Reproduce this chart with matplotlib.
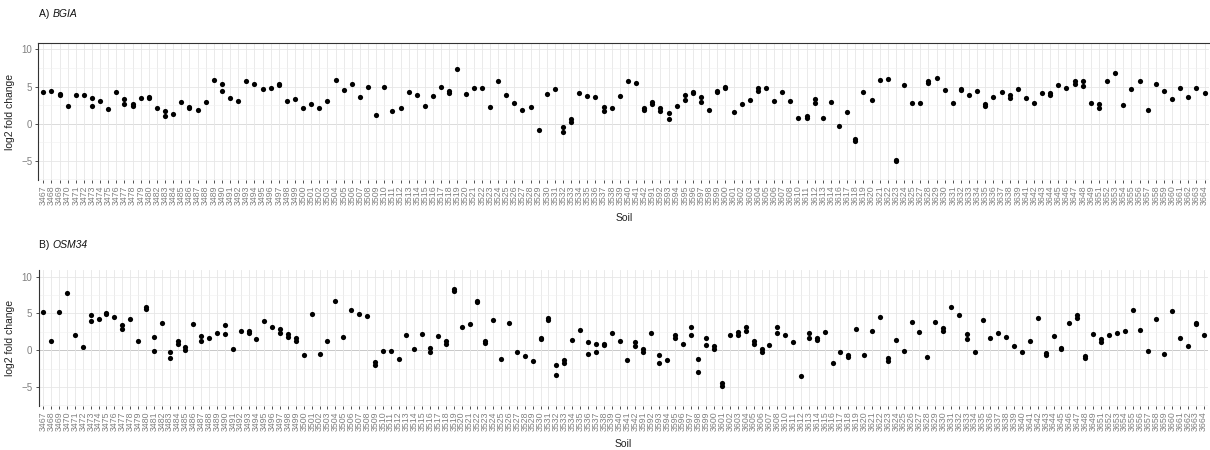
import matplotlib
matplotlib.use('Agg')
import matplotlib.pyplot as plt

plt.rcParams['font.family'] = ['Liberation Sans', 'DejaVu Sans']

# soil ids on the x axis of each panel
soils_bgia = """3467 3468 3469 3470 3471 3472 3473 3474 3475 3476 3477 3478 3479 3480
3482 3483 3484 3485 3486 3487 3488 3489 3490 3491 3492 3493 3494 3495 3496 3497 3498
3499 3500 3501 3502 3503 3504 3505 3506 3507 3508 3509 3510 3511 3512 3513 3514 3515
3516 3517 3518 3519 3520 3521 3522 3523 3524 3525 3526 3527 3528 3529 3530 3531 3532
3533 3534 3535 3536 3537 3538 3539 3540 3541 3542 3591 3592 3593 3594 3595 3596 3597
3598 3599 3600 3601 3602 3603 3604 3605 3606 3607 3608 3610 3611 3612 3613 3614 3616
3617 3618 3619 3620 3621 3622 3623 3624 3625 3627 3628 3629 3630 3631 3632 3633 3634
3635 3636 3637 3638 3639 3641 3642 3643 3644 3645 3646 3647 3648 3649 3651 3652 3653
3654 3655 3656 3657 3658 3659 3660 3661 3662 3663 3664""".split()

soils_osm34 = """3467 3468 3469 3470 3471 3472 3473 3474 3475 3476 3477 3478 3479 3480
3481 3482 3483 3484 3485 3486 3487 3488 3489 3490 3491 3492 3493 3494 3495 3496 3497
3498 3499 3500 3501 3502 3503 3504 3505 3506 3507 3508 3509 3510 3511 3512 3513 3514
3515 3516 3517 3518 3519 3520 3521 3522 3523 3524 3525 3526 3527 3528 3529 3530 3531
3532 3533 3534 3535 3536 3537 3538 3539 3540 3541 3542 3591 3592 3593 3594 3595 3596
3597 3598 3599 3600 3601 3602 3603 3604 3605 3606 3607 3608 3610 3611 3612 3613 3614
3615 3616 3617 3618 3619 3620 3621 3622 3623 3624 3625 3626 3627 3628 3629 3630 3631
3632 3633 3634 3635 3636 3637 3638 3639 3640 3641 3642 3643 3644 3645 3646 3647 3648
3649 3651 3652 3653 3654 3655 3656 3657 3658 3659 3660 3661 3662 3663 3664""".split()

# log2 fold change, replicate values per soil
bgia_lfc = [
    [4.2], [4.4], [4.0, 3.8], [2.4], [3.85], [3.9], [3.4, 2.4], [3.1], [2.0], [4.2],
    [3.3, 2.7], [2.6, 2.4], [3.4], [3.6, 3.4], [2.1], [1.75, 1.05], [1.3], [2.9], [2.3, 2.1], [1.8],
    [2.9], [5.9], [5.3, 4.35], [3.5], [3.05], [5.7], [5.4], [4.6], [4.8], [5.4, 5.2],
    [3.0], [3.35], [2.1], [2.6], [2.15], [3.0], [5.9], [4.5], [5.4], [3.6],
    [5.0], [1.15], [5.0], [1.7], [2.1], [4.2], [3.8], [2.4], [3.7], [4.9],
    [4.4, 4.1], [7.4], [3.95], [4.75], [4.75], [2.3], [5.7], [3.85], [2.8], [1.9],
    [2.25], [-0.9], [4.05], [4.7], [-0.4, -1.1], [0.6, 0.25], [4.1], [3.7], [3.6], [2.25, 1.75],
    [2.15], [3.7], [5.7], [5.5], [2.15, 1.9], [2.9, 2.65], [2.05, 1.65], [1.5, 0.6], [2.4], [3.8, 3.2],
    [4.3, 4.1], [3.6, 2.95], [1.8], [4.45, 4.25], [5.0, 4.75], [1.6], [2.7], [3.2], [4.8, 4.4], [4.75],
    [3.05], [4.2], [3.05], [0.7], [1.05, 0.8], [3.35, 2.85], [0.7], [2.95], [-0.25], [1.6],
    [-2.0, -2.3], [4.25], [3.25], [5.9], [5.95], [-4.9, -5.05], [5.15], [2.8], [2.8], [5.7, 5.5],
    [6.2], [4.5], [2.8], [4.65, 4.55], [3.85], [4.35], [2.65, 2.35], [3.55], [4.25], [3.8, 3.5],
    [4.7], [3.45], [2.75], [4.1], [4.1, 3.9], [5.2], [4.75], [5.7, 5.4], [5.75, 5.1], [2.75],
    [2.65, 2.05], [5.8], [6.8], [2.45], [4.6], [5.8], [1.85], [5.3], [4.45], [3.35],
    [4.85], [3.65], [4.85], [4.1],
]

osm34_lfc = [
    [5.2], [1.3], [5.15], [7.8], [2.1], [0.45], [4.85, 4.0], [4.3], [5.05, 4.9], [4.5],
    [3.4, 2.85], [4.2], [1.2], [5.9, 5.55], [1.85, -0.1], [3.65], [-0.3, -1.1], [1.2, 0.9], [0.5, 0.05], [3.6],
    [1.9, 1.3], [1.7], [2.3], [3.4, 2.2], [0.15], [2.6], [2.6, 2.4], [1.5], [4.0], [3.2],
    [2.85, 2.4], [2.25, 1.85], [1.65, 1.3], [-0.7], [4.9], [-0.45], [1.2], [6.7], [1.75], [5.5],
    [4.95], [4.6], [-1.65, -2.0], [-0.05], [-0.15], [-1.2], [2.0], [0.1], [2.15], [0.25, -0.2],
    [1.9], [1.2, 0.8], [8.3, 8.1], [3.1], [3.6], [6.75, 6.55], [1.25, 0.95], [4.1], [-1.15], [3.7],
    [-0.2], [-0.8], [-1.4], [1.7, 1.55], [4.35, 4.1], [-2.0, -3.3], [-1.3, -1.75], [1.35], [2.8], [1.05, -0.55],
    [0.8, -0.3], [0.85, 0.7], [2.4], [1.3], [-1.3], [1.1, 0.55], [0.2, -0.25], [2.35], [-0.7, -1.7], [-1.3],
    [2.1, 1.6], [0.8], [3.2, 2.1], [-1.25, -3.0], [1.65, 0.75], [0.6, 0.2], [-4.5, -4.9], [2.05], [2.5, 2.1], [3.15, 2.55],
    [1.2, 0.85], [0.1, -0.2], [0.7], [3.1, 2.4], [2.05], [1.15], [-3.55], [2.4, 1.7], [1.6, 1.35], [2.45],
    [-1.7], [-0.25], [-0.65, -0.9], [2.85], [-0.7], [2.55], [4.55], [-1.1, -1.45], [1.4], [-0.15],
    [3.85], [2.45], [-0.9], [3.9], [2.95, 2.6], [5.85], [4.85], [2.15, 1.55], [-0.3], [4.05],
    [1.6], [2.35], [1.85], [0.6], [-0.2], [1.25], [4.4], [-0.35, -0.6], [1.95], [0.35, 0.15],
    [3.75], [4.8, 4.4], [-0.85, -1.1], [2.25], [1.55, 1.05], [2.1], [2.4], [2.6], [5.45], [2.7],
    [-0.15], [4.2], [-0.55], [5.35], [1.6], [0.6], [3.75, 3.5], [2.1],
]

W, H = 1210, 450
fig = plt.figure(figsize=(W / 100, H / 100), dpi=100)


def panel(rect, soils, vals, zero_col, top_line):
    ax = fig.add_axes(rect)
    xs, ys = [], []
    for s, v in zip(soils, vals):
        for y in v:
            xs.append(s)
            ys.append(y)
    ax.scatter(xs, ys, s=14, c='black', linewidths=0, zorder=3)
    ax.set_xlim(-0.6, len(soils) - 0.4)
    ax.set_ylim(-7.57, 10.85)
    ax.set_yticks([-5, 0, 5, 10])
    ax.set_yticks([-7.5, -2.5, 2.5, 7.5], minor=True)
    ax.grid(True, which='major', axis='y', color='#e6e6e6', lw=0.6, zorder=0)
    ax.grid(True, which='minor', axis='y', color='#f0f0f0', lw=0.4, zorder=0)
    ax.grid(True, which='major', axis='x', color='#e6e6e6', lw=0.6, zorder=0)
    ax.axhline(0, color=zero_col, lw=0.7, zorder=1)
    for side in ['right', 'bottom']:
        ax.spines[side].set_visible(False)
    ax.spines['top'].set_visible(top_line)
    for side in ['left', 'top']:
        ax.spines[side].set_color('#333333')
        ax.spines[side].set_linewidth(0.8)
    ax.tick_params(axis='x', labelrotation=90, labelsize=6.3, labelcolor='#808080',
                   length=2.5, width=0.6, color='#333333', pad=1.5)
    ax.tick_params(axis='y', which='major', labelsize=7, labelcolor='#808080',
                   length=2.5, width=0.6, color='#333333', pad=2)
    ax.tick_params(axis='y', which='minor', length=0)
    ax.set_ylabel('log2 fold change', fontsize=7.5, color='#222222')
    ax.yaxis.set_label_coords(-0.02, 0.5)
    ax.set_xlabel('Soil', fontsize=7.5, color='#222222')
    ax.xaxis.set_label_coords(0.5, -0.24)
    return ax


ax_a = panel([38.4 / W, 1 - 180 / H, 1171 / W, 137 / H], soils_bgia, bgia_lfc, '#a8a8a8', True)
ax_b = panel([38.6 / W, 1 - 406 / H, 1169.7 / W, 135.7 / H], soils_osm34, osm34_lfc, '#333333', False)

# panel titles with italic gene names
fig.canvas.draw()
rend = fig.canvas.get_renderer()
for lab, gene, ypix in [('A) ', 'BGIA', 14), ('B) ', 'OSM34', 245)]:
    t = fig.text(39 / W, 1 - ypix / H, lab, fontsize=7.5, va='center', color='#111111')
    bb = t.get_window_extent(rend)
    fig.text(bb.x1 / W, 1 - ypix / H, gene, fontsize=7.5, va='center',
             style='italic', color='#111111')

fig.savefig('out.png', dpi=100)
